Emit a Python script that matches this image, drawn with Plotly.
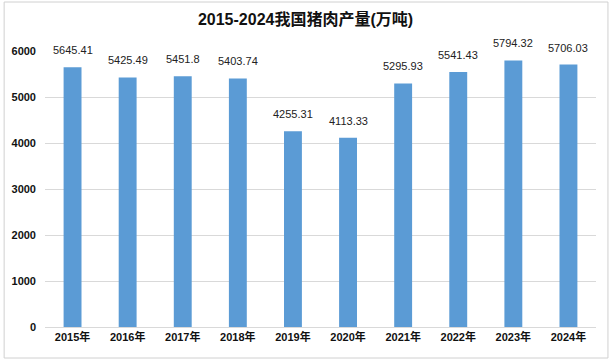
import plotly.graph_objects as go

years = ["2015年", "2016年", "2017年", "2018年", "2019年", "2020年", "2021年", "2022年", "2023年", "2024年"]
output = [5645.41, 5425.49, 5451.8, 5403.74, 4255.31, 4113.33, 5295.93, 5541.43, 5794.32, 5706.03]
labels = ["5645.41", "5425.49", "5451.8", "5403.74", "4255.31", "4113.33", "5295.93", "5541.43", "5794.32", "5706.03"]
y_ticks = [0, 1000, 2000, 3000, 4000, 5000, 6000]

fig = go.Figure()
fig.add_trace(go.Bar(
    x=years, y=output,
    marker=dict(color="#5B9BD5", line=dict(width=0)),
))
for yr, val, lab in zip(years, output, labels):
    fig.add_annotation(x=yr, y=val, text=lab, showarrow=False, yanchor="bottom", yshift=9,
                       font=dict(family="Liberation Sans, Noto Sans CJK SC", size=11, color="#222222"))
fig.update_layout(
    width=611, height=361,
    margin=dict(l=43, r=15, t=51, b=34),
    paper_bgcolor="white", plot_bgcolor="white",
    title=dict(text="<b>2015-2024我国猪肉产量(万吨)</b>", x=0.5, xanchor="center", y=0.945, yanchor="middle",
               font=dict(family="Liberation Sans, Noto Sans CJK SC", size=16, color="#111111")),
    bargap=0.675,
    showlegend=False,
    shapes=[dict(type="rect", xref="paper", yref="paper", x0=-41/553, x1=565/553, y0=-31/276, y1=325/276,
                 line=dict(color="#D0D0D0", width=1), fillcolor="rgba(0,0,0,0)", layer="above")],
)
fig.update_xaxes(showline=True, linecolor="#D9D9D9", linewidth=1, ticks="",
                 tickfont=dict(family="Liberation Sans, Noto Sans CJK SC", size=11, color="#111111", weight="bold"))
fig.update_yaxes(range=[0, 6000], tickvals=y_ticks, showgrid=True, gridcolor="#D9D9D9", gridwidth=1,
                 zeroline=False, ticks="", ticklabelstandoff=8,
                 tickfont=dict(family="Liberation Sans, Noto Sans CJK SC", size=11, color="#111111", weight="bold"))
fig.write_html("out.html", config={"displayModeBar": False},
               post_script="document.body.style.margin='0';document.body.style.padding='0';")
